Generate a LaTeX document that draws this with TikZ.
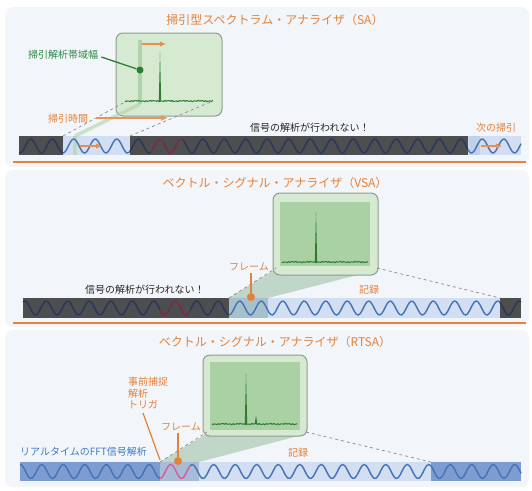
\documentclass[tikz,border=0pt]{standalone}
\usepackage{fontspec}
\setmainfont{Noto Sans CJK JP}
\usetikzlibrary{arrows.meta}
\definecolor{orng}{HTML}{E5823A}
\definecolor{panelbg}{HTML}{F2F5F9}
\definecolor{darkstrip}{HTML}{4C4E4F}
\definecolor{lightstrip}{HTML}{D2DEF1}
\definecolor{nextband}{HTML}{BFD0EA}
\definecolor{midstrip}{HTML}{7D9DD2}
\definecolor{wavenavy}{HTML}{27385A}
\definecolor{waveblue}{HTML}{4673B5}
\definecolor{wavemaroon}{HTML}{7B2A45}
\definecolor{wavepink}{HTML}{D95C95}
\definecolor{scrfill}{HTML}{D6EAD1}
\definecolor{scrinner}{HTML}{A9D1A3}
\definecolor{scrborder}{HTML}{8E9C8E}
\definecolor{bandgreen}{HTML}{AFD3A9}
\definecolor{trace}{HTML}{2E7D32}
\definecolor{lblgreen}{HTML}{2E8B45}
\definecolor{projgreen}{HTML}{8FB89A}
\definecolor{dashgray}{HTML}{8C8C8C}
\definecolor{rtblue}{HTML}{3C7CC4}
\definecolor{framestrip}{HTML}{A6C0CE}
\definecolor{rtframe}{HTML}{A7BCD8}
\newcommand{\sigwave}[6]{\draw[#1, line width=1.4pt, domain=#2:#3, samples=#6, variable=\t, smooth] plot (\t, {#4+7*cos(((\t-#5)/21.5)*360)});}
\newcommand{\noisetrace}[3]{\draw[trace, line width=1pt, line join=round, domain=#1:#2, samples=110, variable=\t] plot (\t, {#3+0.35*sin((\t-#1)*97)+0.3*sin((\t-#1)*151)+0.25*sin((\t-#1)*23)});}
\newcommand{\tracepeak}[3]{\fill[trace] ({#1-1.2},#2) -- (#1,#3) -- ({#1+1.2},#2) -- cycle;}
\tikzset{
 title/.style={text=orng, font=\fontsize{12}{14}\selectfont, inner sep=0pt},
 olbl/.style={text=orng, font=\fontsize{10}{11.5}\selectfont, inner sep=0pt},
 blbl/.style={text=black!85, font=\fontsize{10}{12}\selectfont, inner sep=0pt},
 screen/.style={fill=scrfill, draw=scrborder, line width=1pt, rounded corners=7pt, inner sep=0pt},
 proj/.style={dashed, draw=dashgray, line width=0.7pt},
 oarrow/.style={draw=orng!85, line width=1.6pt, -{Latex[length=7pt,width=6pt]}},
 smallarrow/.style={draw=orng!90, line width=1.3pt, -{Latex[length=6pt,width=5.5pt]}},
 oline/.style={draw=orng, line width=1.2pt},
 odot/.style={circle, fill=orng, inner sep=0pt, minimum size=8pt},
 orule/.style={draw=orng, line width=1.5pt},
}
\begin{document}
\begin{tikzpicture}[x=1pt,y=-1pt]
\useasboundingbox (0,0) rectangle (532,490);
\fill[white] (0,0) rectangle (532,490);
\fill[panelbg, rounded corners=8pt] (5,7) rectangle (529,167);
\fill[panelbg, rounded corners=8pt] (5,170) rectangle (529,327);
\fill[panelbg, rounded corners=8pt] (5,330) rectangle (529,487);

% ================= SA =================
\node[title] (t1) at (275,20) {掃引型スペクトラム・アナライザ（SA）};
\fill[darkstrip] (19,136) rectangle (63,155);
\fill[lightstrip] (63,136) rectangle (130,155);
\fill[darkstrip] (130,136) rectangle (468,155);
\fill[lightstrip] (468,136) rectangle (521,155);
\fill[nextband] (469,136) rectangle (480,155);
\fill[bandgreen, opacity=0.6] (73,136) rectangle (77,155);
\sigwave{wavenavy}{19}{63}{146}{63}{30}
\sigwave{waveblue}{63}{130}{146}{63}{45}
\sigwave{wavenavy}{130}{151}{146}{63}{15}
\sigwave{wavemaroon}{151}{183}{146}{63}{22}
\sigwave{wavenavy}{183}{468}{146}{63}{180}
\sigwave{waveblue}{468}{521}{146}{63}{36}
\node[screen, minimum width=106pt, minimum height=83pt] (scr1) at (169,74.5) {};
\fill[bandgreen] (138,40) rectangle (142,104);
\coordinate (bandbot) at (140,104);
\coordinate (bandstrip) at (75,136);
\draw[bandgreen, opacity=0.6, line width=3.5pt] (bandbot) -- (bandstrip);
\noisetrace{125}{213}{101}
\tracepeak{160}{101}{52}
\coordinate (sweepA) at (142,44);
\coordinate (sweepB) at (166,44);
\draw[smallarrow] (sweepA) -- (sweepB);
\node[circle, fill=trace, inner sep=0pt, minimum size=7pt] (bwdot) at (140,70) {};
\node[text=lblgreen, font=\fontsize{10}{12}\selectfont, inner sep=0pt, anchor=west] (bwlbl) at (28,55) {掃引解析帯域幅};
\draw[draw=trace, line width=1.3pt] (bwlbl.east) ++(3,2) -- (bwdot);
\coordinate (s1l) at (63,136);
\coordinate (s1r) at (130,136);
\coordinate (b1l) at (125,102);
\coordinate (b1r) at (213,101);
\draw[proj] (s1l) -- (b1l);
\draw[proj] (s1r) -- (b1r);
\node[olbl, anchor=west] (swtime) at (48,119) {掃引時間};
\coordinate (swtB) at (168,118);
\draw[oarrow] (swtime.east) ++(8,-1) -- (swtB);
\coordinate (sa1) at (80,146);
\coordinate (sa2) at (102,146);
\draw[smallarrow] (sa1) -- (sa2);
\coordinate (sa3) at (481,146);
\coordinate (sa4) at (502,146);
\draw[smallarrow] (sa3) -- (sa4);
\node[olbl, anchor=west] (next) at (476,128) {次の掃引};
\node[blbl, anchor=west] (noana1) at (250,128) {信号の解析が行われない！};
\coordinate (r1a) at (13,162);
\coordinate (r1b) at (526,162);
\draw[orule] (r1a) -- (r1b);

% ================= VSA =================
\node[title] (t2) at (275,183) {ベクトル・シグナル・アナライザ（VSA）};
\fill[darkstrip] (23,298) rectangle (229,318);
\fill[framestrip] (229,298) rectangle (268,318);
\fill[lightstrip] (268,298) rectangle (500,318);
\fill[darkstrip] (500,298) rectangle (521,318);
\sigwave{wavenavy}{23}{160}{308}{229}{70}
\sigwave{wavemaroon}{160}{190}{308}{229}{20}
\sigwave{wavenavy}{190}{229}{308}{229}{25}
\sigwave{waveblue}{229}{500}{308}{229}{150}
\sigwave{wavenavy}{500}{521}{308}{229}{15}
\fill[projgreen, opacity=0.5] (229,298) -- (274,270) -- (377,270) -- (268,298) -- cycle;
\node[screen, minimum width=105pt, minimum height=82pt] (scr2) at (325.5,234) {};
\fill[scrinner] (280,202) rectangle (370,266);
\noisetrace{282}{368}{262}
\tracepeak{316}{262}{212}
\coordinate (s2l) at (229,298);
\coordinate (s2r) at (500,298);
\coordinate (b2l) at (276,268);
\coordinate (b2r) at (377,268);
\draw[proj] (s2l) -- (b2l);
\draw[proj] (b2r) -- (s2r);
\node[olbl] (frame2) at (249,267) {フレーム};
\node[odot] (fdot2) at (251,297) {};
\draw[oline] (frame2.south -| fdot2) ++(0,2) -- (fdot2);
\node[olbl] (rec2) at (369,290) {記録};
\node[blbl, anchor=west] (noana2) at (85,290) {信号の解析が行われない！};
\coordinate (r2a) at (13,323);
\coordinate (r2b) at (526,323);
\draw[orule] (r2a) -- (r2b);

% ================= RTSA =================
\node[title] (t3) at (275,342) {ベクトル・シグナル・アナライザ（RTSA）};
\fill[midstrip] (20,462) rectangle (160,481);
\fill[rtframe] (160,462) rectangle (199,481);
\fill[lightstrip] (199,462) rectangle (431,481);
\fill[midstrip] (431,462) rectangle (521,481);
\sigwave{waveblue}{20}{160}{471.5}{160}{70}
\sigwave{wavepink}{160}{190}{471.5}{160}{20}
\sigwave{waveblue}{190}{521}{471.5}{160}{170}
\fill[projgreen, opacity=0.5] (160,462) -- (206,434) -- (306,434) -- (199,462) -- cycle;
\node[screen, minimum width=104pt, minimum height=81pt] (scr3) at (255,395.5) {};
\fill[scrinner] (210,362) rectangle (300,430);
\noisetrace{212}{297}{424}
\tracepeak{246}{424}{373}
\tracepeak{256}{424}{415}
\coordinate (s3l) at (160,462);
\coordinate (s3r) at (431,462);
\coordinate (b3l) at (207,432);
\coordinate (b3r) at (306,432);
\draw[proj] (s3l) -- (b3l);
\draw[proj] (b3r) -- (s3r);
\node[olbl, anchor=north west, align=left] (trig) at (128,377) {事前捕捉\\解析\\トリガ};
\coordinate (trigend) at (160,460);
\draw[oline] (143,413) -- (trigend);
\node[olbl] (frame3) at (181,427) {フレーム};
\node[odot] (fdot3) at (178,461) {};
\draw[oline] (frame3.south -| fdot3) ++(0,2) -- (fdot3);
\node[olbl] (rec3) at (298,453) {記録};
\node[text=rtblue, font=\fontsize{10}{12}\selectfont, inner sep=0pt, anchor=west] (rtlbl) at (20,452) {リアルタイムのFFT信号解析};
\end{tikzpicture}
\end{document}
